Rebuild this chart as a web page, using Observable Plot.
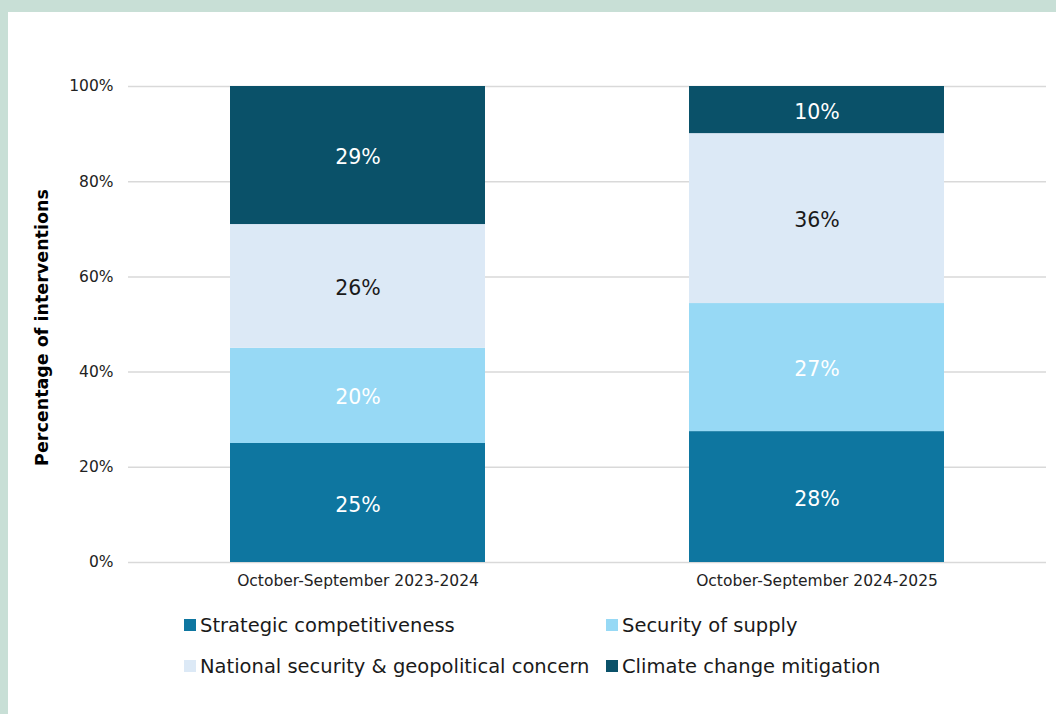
<!DOCTYPE html>
<html>
<head>
<meta charset="utf-8">
<script src="https://cdn.jsdelivr.net/npm/d3@7"></script>
<script src="https://cdn.jsdelivr.net/npm/@observablehq/plot@0.6"></script>
<style>
  html, body { margin: 0; padding: 0; }
  body { width: 1056px; height: 714px; background: #c8dfd6; position: relative; overflow: hidden; font-family: "DejaVu Sans", Verdana, sans-serif; }
  #panel { position: absolute; left: 8px; top: 12px; width: 1048px; height: 702px; background: #ffffff; }
  #chart { position: absolute; left: 0; top: 0; }
  .legend-item { position: absolute; display: flex; align-items: center; font-size: 19.5px; color: #1a1a1a; white-space: nowrap; }
  .legend-item .sw { width: 12px; height: 12px; margin-right: 4px; flex: none; }
</style>
</head>
<body>
<div id="panel">
  <div id="chart"></div>
  <div id="legend"></div>
</div>
<script>
const periods = ["October-September 2023-2024", "October-September 2024-2025"];
const categories = ["Strategic competitiveness", "Security of supply", "National security & geopolitical concern", "Climate change mitigation"];
const colors = ["#0e76a0", "#97d9f5", "#dce9f6", "#0a5169"];
const values2324 = [25, 20, 26, 29];
const values2425 = [27.5, 26.9, 35.7, 9.9];
const labels2324 = ["25%", "20%", "26%", "29%"];
const labels2425 = ["28%", "27%", "36%", "10%"];
const yTicks = [0, 20, 40, 60, 80, 100];
const yTitle = "Percentage of interventions";

const data = [];
categories.forEach((c, i) => data.push({period: periods[0], category: c, value: values2324[i], label: labels2324[i]}));
categories.forEach((c, i) => data.push({period: periods[1], category: c, value: values2425[i], label: labels2425[i]}));

const darkText = new Set(["National security & geopolitical concern"]);

const chart = Plot.plot({
  width: 1048,
  height: 600,
  marginLeft: 120,
  marginRight: 10,
  marginTop: 74,
  marginBottom: 50,
  style: {background: "transparent", fontFamily: "DejaVu Sans, Verdana, sans-serif", fontSize: "15.5px", color: "#222"},
  x: {domain: periods, paddingInner: 0.444, paddingOuter: 0.222, label: null, tickSize: 0, tickPadding: 12},
  y: {domain: [0, 100], ticks: yTicks, tickFormat: d => d + "%", label: null, tickSize: 0, tickPadding: 15},
  color: {domain: categories, range: colors},
  marks: [
    Plot.ruleY(yTicks, {stroke: "#d9d9d9", strokeWidth: 1.5}),
    Plot.barY(data, {x: "period", y: "value", fill: "category", order: categories}),
    Plot.text(data, Plot.stackY({
      x: "period", y: "value", z: "category", order: categories, text: "label",
      fill: d => darkText.has(d.category) ? "#1a1a1a" : "#ffffff",
      fontSize: 20.5, dy: 2
    })),
    Plot.text([yTitle], {frameAnchor: "left", textAnchor: "middle", rotate: -90, dx: -86, dy: 3, fontSize: 17.5, fontWeight: "bold", fill: "#000"})
  ]
});
document.getElementById("chart").appendChild(chart);

const legendPos = [[176, 613], [598, 613], [176, 654], [598, 654]];
const legend = document.getElementById("legend");
categories.forEach((c, i) => {
  const item = document.createElement("div");
  item.className = "legend-item";
  item.style.left = legendPos[i][0] + "px";
  item.style.top = (legendPos[i][1] - 12) + "px";
  item.style.height = "24px";
  const sw = document.createElement("span");
  sw.className = "sw";
  sw.style.background = colors[i];
  const t = document.createElement("span");
  t.textContent = c;
  item.appendChild(sw);
  item.appendChild(t);
  legend.appendChild(item);
});
</script>
</body>
</html>
